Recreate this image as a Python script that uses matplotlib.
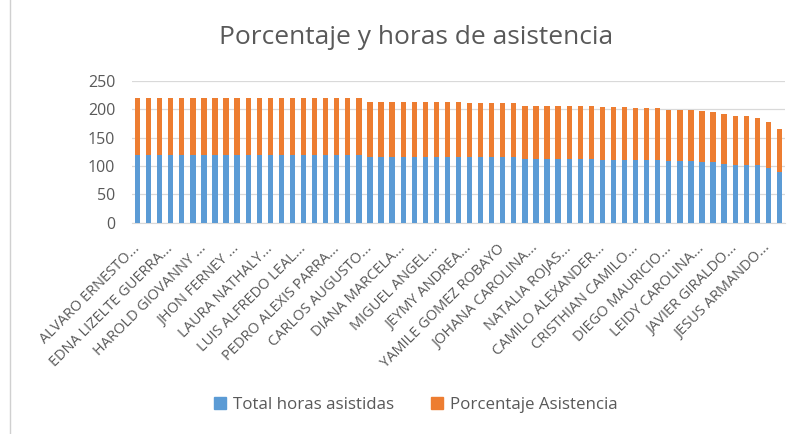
import numpy as np
import matplotlib.pyplot as plt
from matplotlib.patches import Patch
from matplotlib.lines import Line2D

plt.rcParams['font.family'] = ['Open Sans', 'DejaVu Sans']

# attended hours per student (sorted high to low)
horas = [120, 120, 120, 120, 120, 120, 120, 120, 120, 120,
         120, 120, 120, 120, 120, 120, 120, 120, 120, 120,
         120, 116, 116, 116, 116, 116, 116, 116, 116, 116,
         115, 115, 115, 115, 115, 112, 112, 112, 112, 112,
         112, 112, 111, 111, 111, 110, 110, 110, 108, 108,
         108, 107, 106, 104, 102, 102, 101, 97, 90]

# attendance percentage per student
porcentaje = [100, 100, 100, 100, 100, 100, 100, 100, 100, 100,
              100, 100, 100, 100, 100, 100, 100, 100, 100, 100,
              100, 96.7, 96.7, 96.7, 96.7, 96.7, 96.7, 96.7, 96.7, 96.7,
              95.8, 95.8, 95.8, 95.8, 95.8, 93.3, 93.3, 93.3, 93.3, 93.3,
              93.3, 93.3, 92.5, 92.5, 92.5, 91.7, 91.7, 91.7, 90, 90,
              90, 89.2, 88.3, 86.7, 85, 85, 84.2, 80.8, 75]

# only every third name is shown on the category axis
nombres = ["ALVARO ERNESTO...", "EDNA LIZELTE GUERRA...", "HAROLD GIOVANNY ...",
           "JHON FERNEY ...", "LAURA NATHALY...", "LUIS ALFREDO LEAL...",
           "PEDRO ALEXIS PARRA...", "CARLOS AUGUSTO...", "DIANA MARCELA...",
           "MIGUEL ANGEL...", "JEYMY ANDREA...", "YAMILE GOMEZ ROBAYO",
           "JOHANA CAROLINA...", "NATALIA ROJAS...", "CAMILO ALEXANDER...",
           "CRISTHIAN CAMILO...", "DIEGO MAURICIO...", "LEIDY CAROLINA...",
           "JAVIER GIRALDO...", "JESUS ARMANDO..."]

azul = '#5B9BD5'
naranja = '#ED7D31'
gris = '#595959'

fig = plt.figure(figsize=(8.1, 4.34), dpi=100)
ax = fig.add_axes([132 / 810, 1 - 222.7 / 434, 653 / 810, 142 / 434])

x = np.arange(len(horas))
ax.bar(x, horas, width=0.48, color=azul, zorder=3)
ax.bar(x, porcentaje, width=0.48, bottom=horas, color=naranja, zorder=3)

ax.set_xlim(-0.5, len(horas) - 0.5)
ax.set_ylim(0, 250)
ax.set_yticks(range(0, 251, 50))
ax.yaxis.grid(True, color='#D9D9D9', linewidth=0.9, zorder=0)

ax.set_xticks(x[::3])
ax.set_xticklabels(nombres, rotation=45, ha='right', va='center',
                   rotation_mode='anchor', fontsize=10.5, color=gris)
ax.tick_params(axis='x', length=0, pad=17)
ax.tick_params(axis='y', length=0, labelsize=11.5, labelcolor=gris, pad=12)

for s in ['top', 'right', 'left']:
    ax.spines[s].set_visible(False)
ax.spines['bottom'].set_color('#D9D9D9')

fig.text(416 / 810, 1 - 38 / 434, "Porcentaje y horas de asistencia",
         ha='center', va='center', fontsize=19, color=gris)

handles = [Patch(color=azul, label='Total horas asistidas'),
           Patch(color=naranja, label='Porcentaje Asistencia')]
fig.legend(handles=handles, loc='center', bbox_to_anchor=(416 / 810, 1 - 405 / 434),
           ncol=2, frameon=False, fontsize=12.2, labelcolor=gris,
           handlelength=0.7, handleheight=0.7, handletextpad=0.4, columnspacing=2.2)

# chart area edge on the left
fig.add_artist(Line2D([10 / 810, 10 / 810], [0, 1], color='#D0D0D0', linewidth=1))

fig.savefig('out.png', dpi=100)
